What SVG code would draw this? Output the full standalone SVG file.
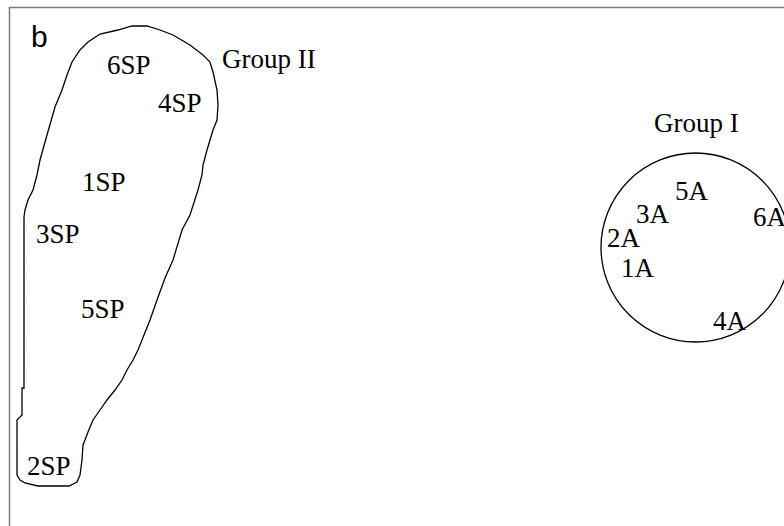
<svg xmlns="http://www.w3.org/2000/svg" width="784" height="526" viewBox="0 0 784 526">
<style>
.t{font-family:"Liberation Serif","Times New Roman",serif;font-size:27px;fill:#000}
.ol{fill:none;stroke:#000;stroke-width:1.3}
</style>
<rect width="784" height="526" fill="#fff"/>
<path d="M9.5 526 V7.5 H784" fill="none" stroke="#7a7a7a" stroke-width="1.5"/>
<text x="31" y="47" font-family="Liberation Sans,Arial,sans-serif" font-size="30" fill="#000">b</text>
<g id="group2">
<path class="ol" d="M132 26 L147 26 L160 30 L173 35 L190 45 L203 55 L210 62 L213 72 L217 90 L218 105 L217 120 L213 130 L210 140 L207 150 L203 165 L202 175 L198 190 L190 215 L182 230 L173 260 L165 278 L157 300 L150 320 L142 340 L138 350 L133 360 L127 370 L122 380 L115 390 L107 400 L100 410 L93 420 L88 432 L85 440 L83 445 L82 460 L80 475 L77 482 L69 486 L38 486 L25 483 L20 480 L17 475 L17 420 L22 415 L22 388 L24 388 L24 217 L25 210 L28 200 L33 190 L37 175 L40 160 L47 135 L55 107 L62 90 L67 75 L72 62 L80 50 L88 42 L100 34 L118 30 Z"/>
<text class="t" x="222" y="68">Group II</text>
<text class="t" x="107" y="74">6SP</text>
<text class="t" x="158" y="112">4SP</text>
<text class="t" x="82" y="191">1SP</text>
<text class="t" x="36" y="243">3SP</text>
<text class="t" x="81" y="318">5SP</text>
<text class="t" x="27" y="475">2SP</text>
</g>
<g id="group1">
<circle class="ol" cx="695.5" cy="247.5" r="94.5"/>
<text class="t" x="654" y="132">Group I</text>
<text class="t" x="675" y="200">5A</text>
<text class="t" x="636" y="223">3A</text>
<text class="t" x="753" y="226">6A</text>
<text class="t" x="607" y="247">2A</text>
<text class="t" x="621" y="277">1A</text>
<text class="t" x="713" y="330">4A</text>
</g>
</svg>
